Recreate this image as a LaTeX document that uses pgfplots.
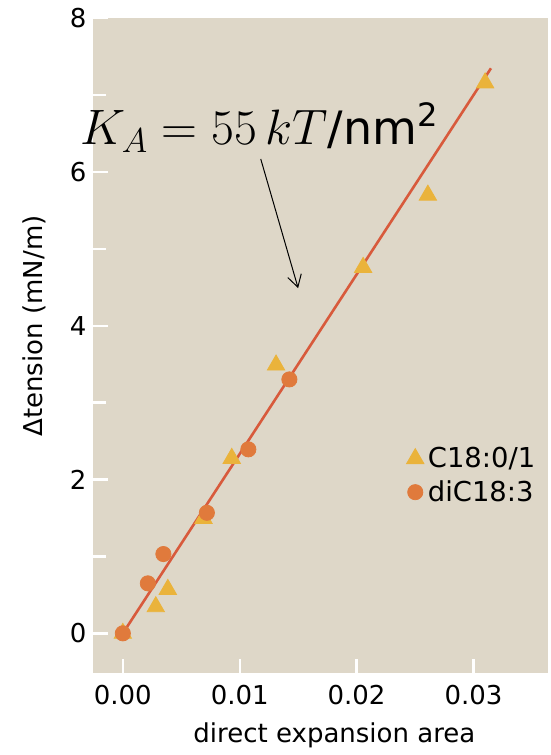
\documentclass[border=0pt]{standalone}
\usepackage{fontspec}
\setmainfont{DejaVu Sans}
\usepackage{pgfplots}
\pgfplotsset{compat=1.18}
\usetikzlibrary{arrows.meta}
\definecolor{bgbeige}{HTML}{DED7C8}
\definecolor{trigold}{HTML}{EAB33B}
\definecolor{dotorange}{HTML}{E07A3C}
\definecolor{fitred}{HTML}{D85A3C}
\begin{document}
\begin{tikzpicture}
\begin{axis}[
  scale only axis,
  width=227.25pt, height=327.35pt,
  xmin=-0.00251, xmax=0.03638,
  ymin=-0.516, ymax=8,
  axis background/.style={fill=bgbeige},
  axis line style={draw=none},
  tick align=inside,
  xtick pos=bottom, ytick pos=left,
  xtick={0,0.01,0.02,0.03},
  ytick={0,2,4,6,8},
  minor ytick={1,3,5,7},
  major tick length=7pt, minor tick length=6pt,
  every tick/.style={white, line width=1.2pt},
  xticklabel style={/pgf/number format/fixed, /pgf/number format/fixed zerofill, /pgf/number format/precision=2, yshift=-2.5pt},
  scaled x ticks=false,
  /pgf/number format/assume math mode=true,
  tick label style={font=\fontsize{13}{16}\selectfont},
  xlabel={direct expansion area},
  ylabel={Δtension (mN/m)},
  label style={font=\fontsize{13}{16}\selectfont},
  xlabel style={at={(ticklabel cs:0.53)}, yshift=-2pt},
  ylabel style={at={(ticklabel cs:0.53)}, yshift=5pt},
  legend image code/.code={\draw[mark repeat=2,mark phase=2] plot coordinates {(0pt,0pt) (4.5pt,0pt) (9pt,0pt)};},
  legend style={draw=none, fill=none, at={(rel axis cs:0.688,0.352)}, anchor=north west,
    font=\fontsize{13.7}{15}\selectfont, row sep=1pt, inner sep=0pt,
    nodes={inner xsep=2pt}},
  legend cell align=left,
  clip=false,
]
\addplot[fitred, line width=1.3pt, forget plot] coordinates {(0,0) (0.0315,7.35)};
\addplot[only marks, mark=triangle*, mark size=5pt, trigold, mark options={draw=none, fill=trigold}] coordinates {
(0,0) (0.00282,0.346) (0.00385,0.572) (0.00690,1.495) (0.00932,2.276)
(0.01311,3.49) (0.02056,4.76) (0.0261,5.70) (0.0310,7.16)};
\addlegendentry{C18:0/1}
\addplot[only marks, mark=*, mark size=3.8pt, dotorange, mark options={draw=none, fill=dotorange}] coordinates {
(0,0) (0.00214,0.650) (0.00347,1.031) (0.00719,1.568) (0.01074,2.393) (0.01425,3.303)};
\addlegendentry{diC18:3}
\node at (axis cs:0.0117,6.58) {\fontsize{23}{27}\selectfont $K_A = 55\,kT$/nm\textsuperscript{2}};
\draw[-{Straight Barb[length=6pt,width=7pt]}, line width=0.5pt] (axis cs:0.0118,6.17) -- (axis cs:0.0150,4.49);
\end{axis}
\path (current axis.south west) ++(-46.75pt,-41pt) rectangle ([shift={(1.5pt,9.15pt)}]current axis.north east);
\end{tikzpicture}
\end{document}
